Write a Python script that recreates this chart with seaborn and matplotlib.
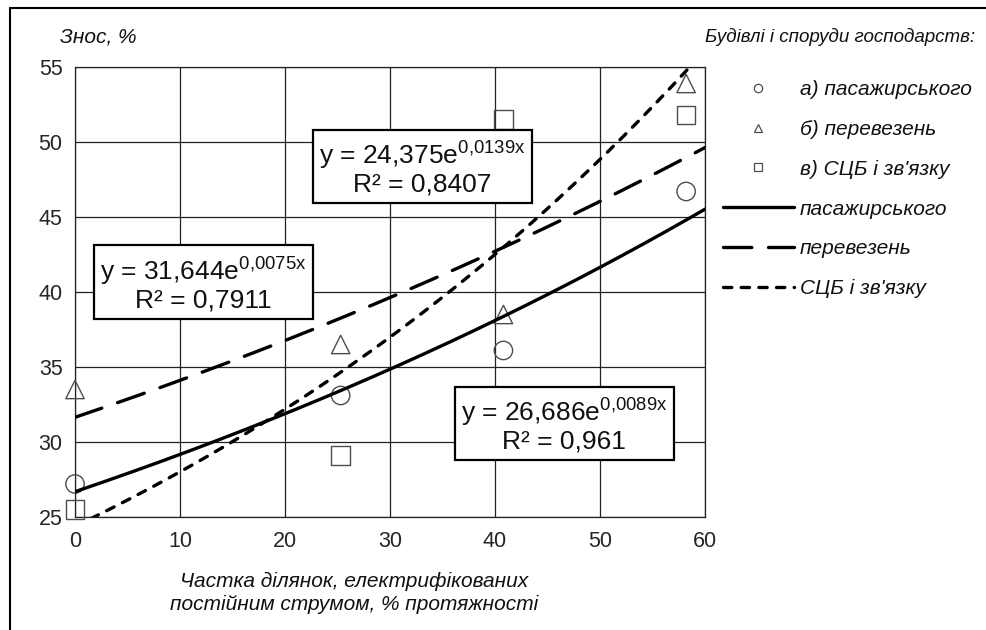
import numpy as np
import pandas as pd
import seaborn as sns
import matplotlib.pyplot as plt
from matplotlib.lines import Line2D

# values
share = [0, 25.3, 40.8, 58.2]              # % of electrified sections (DC)
wear_passenger = [27.2, 33.1, 36.1, 46.7]  # а) пасажирського
wear_freight = [33.5, 36.5, 38.5, 53.9]    # б) перевезень
wear_signal = [25.5, 29.1, 51.5, 51.8]     # в) СЦБ і зв'язку

point_labels = ['а) пасажирського', 'б) перевезень', "в) СЦБ і зв'язку"]
line_labels = ['пасажирського', 'перевезень', "СЦБ і зв'язку"]
point_markers = ['o', '^', 's']

# exponential trend lines y = a*e^(b*x) as printed on the chart
trend_a = [26.686, 31.644, 24.375]
trend_b = [0.0089, 0.0075, 0.0139]
trend_a_txt = ['26,686', '31,644', '24,375']
trend_b_txt = ['0{,}0089x', '0{,}0075x', '0{,}0139x']
trend_r2_txt = ['0,961', '0,7911', '0,8407']
box_pos = [(46.6, 31.15), (12.2, 40.6), (33.1, 48.3)]

sns.set_theme(style='white')
plt.rcParams['font.family'] = ['Liberation Sans', 'DejaVu Sans']
plt.rcParams['mathtext.fontset'] = 'custom'
plt.rcParams['mathtext.rm'] = 'Liberation Sans'

df = pd.DataFrame({
    'x': share * 3,
    'y': wear_passenger + wear_freight + wear_signal,
    'group': sum([[g] * 4 for g in point_labels], []),
})

xs = np.linspace(0, 60, 200)
trend = pd.DataFrame({
    'x': np.tile(xs, 3),
    'y': np.concatenate([a * np.exp(b * xs) for a, b in zip(trend_a, trend_b)]),
    'group': np.repeat(line_labels, len(xs)),
})

fig = plt.figure(figsize=(9.87, 6.3), dpi=100)
ax = fig.add_axes([0.076, 0.1794, 0.6383, 0.7143])

grey = '#4d4d4d'
for g, m in zip(point_labels, point_markers):
    sns.scatterplot(data=df[df.group == g], x='x', y='y', marker=m, s=175,
                    facecolor='none', edgecolor=grey, linewidth=1.0,
                    ax=ax, clip_on=False, zorder=3, legend=False)

dashes = [(None, None), (8.5, 5), (2.5, 2.8)]
for g, d in zip(line_labels, dashes):
    sub = trend[trend.group == g]
    kw = {} if d[0] is None else {'dashes': d}
    sns.lineplot(data=sub, x='x', y='y', color='black', linewidth=2.4,
                 ax=ax, zorder=4, legend=False, **kw)
for ln in ax.get_lines():
    ln.set_dash_capstyle('round')
    ln.set_solid_capstyle('round')

for a_t, b_t, r_t, (bx, by) in zip(trend_a_txt, trend_b_txt, trend_r2_txt, box_pos):
    ax.text(bx, by, 'y = ' + a_t + 'e$^{\\mathregular{' + b_t + '}}$\nR² = ' + r_t,
            ha='center', va='center', multialignment='center', fontsize=19,
            color='#111111', linespacing=1.08, zorder=6,
            bbox=dict(boxstyle='square,pad=0.24', fc='white', ec='black', lw=1.6))

ax.set_xlim(0, 60)
ax.set_ylim(25, 55)
ax.set_xticks(range(0, 61, 10))
ax.set_yticks(range(25, 56, 5))
ax.grid(True, color='#222222', linewidth=0.9)
ax.set_axisbelow(True)
for sp in ax.spines.values():
    sp.set_color('#222222')
    sp.set_linewidth(0.9)
ax.tick_params(axis='both', length=0, labelsize=15.5, labelcolor='#262626')
ax.tick_params(axis='y', pad=9)
ax.tick_params(axis='x', pad=10)
ax.set_xlabel('')
ax.set_ylabel('')

fig.text(60 / 987, 1 - 37 / 630, 'Знос, %', fontsize=15, style='italic',
         ha='left', va='center', color='#111111')
fig.text(975 / 987, 1 - 37 / 630, 'Будівлі і споруди господарств:', fontsize=13.5,
         style='italic', ha='right', va='center', color='#111111')
fig.text(354 / 987, 1 - 593 / 630,
         'Частка ділянок, електрифікованих\nпостійним струмом, % протяжності',
         fontsize=15, style='italic', ha='center', va='center', linespacing=1.3,
         color='#111111')

handles = [Line2D([], [], linestyle='none', marker=m, markersize=6,
                  markerfacecolor='none', markeredgecolor=grey, markeredgewidth=0.9)
           for m in point_markers]
for d in dashes:
    h = Line2D([], [], color='black', linewidth=2.4,
               dash_capstyle='round', solid_capstyle='round')
    if d[0] is not None:
        h.set_dashes(d)
    handles.append(h)
leg = fig.legend(handles, point_labels + line_labels, loc='upper left',
                 bbox_to_anchor=(723 / 987, 1 - 80 / 630), frameon=False,
                 handlelength=3.4, handletextpad=0.3, labelspacing=1.0,
                 borderpad=0, borderaxespad=0,
                 prop={'size': 15, 'style': 'italic'})
for t in leg.get_texts():
    t.set_color('#111111')

# outer frame (left and top edges visible in the original)
fig.add_artist(Line2D([10 / 987, 10 / 987], [0, 1 - 8 / 630], color='black',
                      linewidth=1.5, transform=fig.transFigure))
fig.add_artist(Line2D([10 / 987, 1], [1 - 8 / 630, 1 - 8 / 630], color='black',
                      linewidth=1.5, transform=fig.transFigure))

fig.savefig('out.png', dpi=100)
